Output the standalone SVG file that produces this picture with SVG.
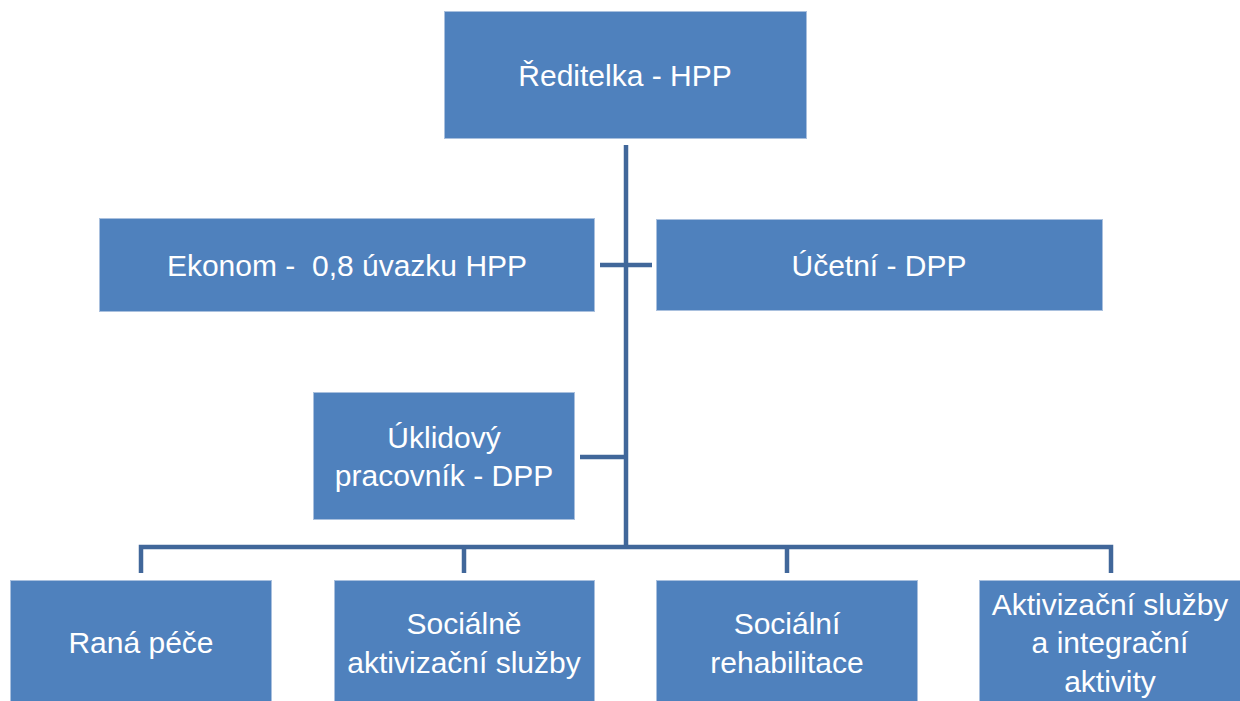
<svg xmlns="http://www.w3.org/2000/svg" width="1240" height="701" viewBox="0 0 1240 701">
<style>
.box{fill:#4F81BD;stroke:#A9C0DE;stroke-width:1}
.t{font-family:"Liberation Sans",Arial,sans-serif;font-size:30px;fill:#FFFFFF;text-anchor:middle;white-space:pre}
.c{fill:none;stroke:#41679A;stroke-width:4.5;stroke-linejoin:miter}
</style>
<rect width="1240" height="701" fill="#FFFFFF"/>
<g id="connectors">
<line class="c" x1="626" y1="145" x2="626" y2="547"/>
<line class="c" x1="600" y1="265" x2="652" y2="265"/>
<line class="c" x1="580" y1="457" x2="626" y2="457"/>
<polyline class="c" points="141,573 141,547 1111,547 1111,573"/>
<line class="c" x1="464" y1="547" x2="464" y2="573"/>
<line class="c" x1="787" y1="547" x2="787" y2="573"/>
</g>
<g id="reditelka">
<rect class="box" x="444.5" y="11.5" width="362" height="127"/>
<text class="t" x="625" y="86">Ředitelka - HPP</text>
</g>
<g id="ekonom">
<rect class="box" x="99.5" y="218.5" width="495" height="93"/>
<text class="t" x="347" y="276" xml:space="preserve">Ekonom -  0,8 úvazku HPP</text>
</g>
<g id="ucetni">
<rect class="box" x="656.5" y="219.5" width="446" height="91"/>
<text class="t" x="879" y="276">Účetní - DPP</text>
</g>
<g id="uklidovy">
<rect class="box" x="313.5" y="392.5" width="261" height="127"/>
<text class="t" x="444" y="448">Úklidový</text>
<text class="t" x="444" y="486">pracovník - DPP</text>
</g>
<g id="rana-pece">
<rect class="box" x="10.5" y="580.5" width="261" height="125"/>
<text class="t" x="141" y="653">Raná péče</text>
</g>
<g id="socialne-aktivizacni">
<rect class="box" x="334.5" y="580.5" width="260" height="125"/>
<text class="t" x="464" y="634">Sociálně</text>
<text class="t" x="464" y="673">aktivizační služby</text>
</g>
<g id="socialni-rehabilitace">
<rect class="box" x="656.5" y="580.5" width="261" height="125"/>
<text class="t" x="787" y="634">Sociální</text>
<text class="t" x="787" y="673">rehabilitace</text>
</g>
<g id="aktivizacni-sluzby">
<rect class="box" x="979.5" y="580.5" width="262" height="125"/>
<text class="t" x="1110" y="615">Aktivizační služby</text>
<text class="t" x="1110" y="653">a integrační</text>
<text class="t" x="1110" y="692">aktivity</text>
</g>
</svg>
